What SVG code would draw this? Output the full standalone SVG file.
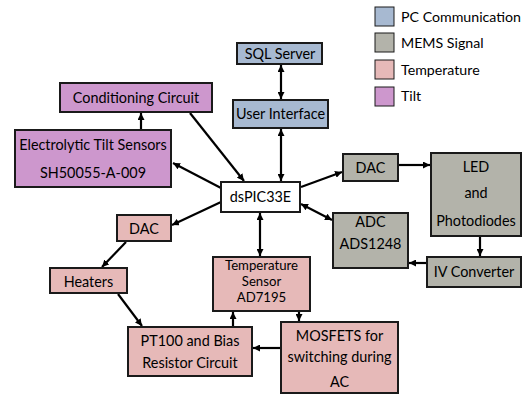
<svg xmlns="http://www.w3.org/2000/svg" width="524" height="394" viewBox="0 0 524 394">
<defs>
<marker id="ah" viewBox="0 0 10 10" refX="10" refY="5" markerWidth="7" markerHeight="7" markerUnits="userSpaceOnUse" orient="auto-start-reverse">
<path d="M0,0 L10,5 L0,10 z" fill="#000"/>
</marker>
<style>
.box{stroke:#1a1a1a;stroke-width:2}
.pc{fill:#a7b9d1}
.mems{fill:#b3b3aa}
.temp{fill:#e6b9b8}
.tilt{fill:#cd97cd}
.white{fill:#fff}
text{font-family:Lato,"Liberation Sans",sans-serif;font-size:14.4px;fill:#000;text-anchor:middle}
.lg{text-anchor:start;font-size:14.2px}
.sm{font-size:13.2px}
.c{stroke:#000;stroke-width:2.2;fill:none;marker-end:url(#ah)}
.d{stroke:#000;stroke-width:2.2;fill:none;marker-end:url(#ah);marker-start:url(#ah)}
</style>
</defs>
<rect width="524" height="394" fill="#fff"/>
<g id="legend">
<rect class="box pc" x="375" y="7" width="19" height="19" style="stroke-width:1"/>
<rect class="box mems" x="375" y="33" width="19" height="19" style="stroke-width:1"/>
<rect class="box temp" x="375" y="60" width="19" height="19" style="stroke-width:1"/>
<rect class="box tilt" x="375" y="87" width="19" height="19" style="stroke-width:1"/>
<text class="lg" x="401" y="22">PC Communication</text>
<text class="lg" x="401" y="48">MEMS Signal</text>
<text class="lg" x="401" y="75">Temperature</text>
<text class="lg" x="401" y="101">Tilt</text>
</g>
<g id="connectors">
<line class="d" x1="281" y1="65" x2="281" y2="99"/>
<line class="d" x1="281" y1="129" x2="281" y2="181"/>
<line class="c" x1="190" y1="113" x2="244" y2="181"/>
<line class="c" x1="221" y1="188" x2="173" y2="163"/>
<line class="c" x1="141" y1="130" x2="141" y2="113"/>
<line class="c" x1="221" y1="202" x2="172" y2="225"/>
<line class="c" x1="126" y1="242" x2="102" y2="267"/>
<line class="c" x1="118" y1="294" x2="142" y2="326"/>
<line class="c" x1="233" y1="327" x2="233" y2="312"/>
<line class="c" x1="281" y1="348" x2="253" y2="348"/>
<line class="c" x1="299" y1="311" x2="299" y2="321"/>
<line class="d" x1="260" y1="213" x2="260" y2="256"/>
<line class="c" x1="301" y1="187" x2="342" y2="172"/>
<line class="c" x1="398" y1="165" x2="430" y2="165"/>
<line class="c" x1="480" y1="237" x2="480" y2="256"/>
<line class="c" x1="427" y1="263" x2="409" y2="263"/>
<line class="d" x1="301" y1="204" x2="332" y2="220"/>
</g>
<g id="sql"><rect class="box pc" x="237" y="43" width="85" height="21"/><text x="280" y="59">SQL Server</text></g>
<g id="ui"><rect class="box pc" x="233" y="100" width="95" height="28"/><text x="280.5" y="119">User Interface</text></g>
<g id="cond"><rect class="box tilt" x="60" y="83" width="152" height="29"/><text x="136" y="103">Conditioning Circuit</text></g>
<g id="tilt"><rect class="box tilt" x="15" y="130" width="156" height="57"/><text x="93" y="150">Electrolytic Tilt Sensors</text><text x="93" y="178">SH50055-A-009</text></g>
<g id="dspic"><rect class="box white" x="221" y="182" width="79" height="30"/><text x="260.5" y="202">dsPIC33E</text></g>
<g id="tsensor"><rect class="box temp" x="213" y="257" width="97" height="54"/><text class="sm" x="261.5" y="270">Temperature</text><text class="sm" x="261.5" y="286">Sensor</text><text class="sm" x="261.5" y="302">AD7195</text></g>
<g id="dac2"><rect class="box mems" x="343" y="154" width="55" height="27"/><text x="370.5" y="173">DAC</text></g>
<g id="led"><rect class="box mems" x="431" y="153" width="90" height="83"/><text x="476" y="172">LED</text><text x="476" y="198">and</text><text x="476" y="226">Photodiodes</text></g>
<g id="adc"><rect class="box mems" x="333" y="213" width="75" height="55"/><text x="370.5" y="227">ADC</text><text x="370.5" y="249">ADS1248</text></g>
<g id="iv"><rect class="box mems" x="427" y="257" width="94" height="30"/><text x="474" y="277">IV Converter</text></g>
<g id="dac1"><rect class="box temp" x="117" y="215" width="54" height="26"/><text x="144" y="234">DAC</text></g>
<g id="heaters"><rect class="box temp" x="50" y="268" width="77" height="25"/><text x="88.5" y="287">Heaters</text></g>
<g id="pt100"><rect class="box temp" x="128" y="327" width="124" height="49"/><text x="190" y="346">PT100 and Bias</text><text x="190" y="368">Resistor Circuit</text></g>
<g id="mosfets"><rect class="box temp" x="281" y="322" width="117" height="71"/><text x="339.5" y="341">MOSFETS for</text><text x="339.5" y="362">switching during</text><text x="339.5" y="387">AC</text></g>
</svg>
